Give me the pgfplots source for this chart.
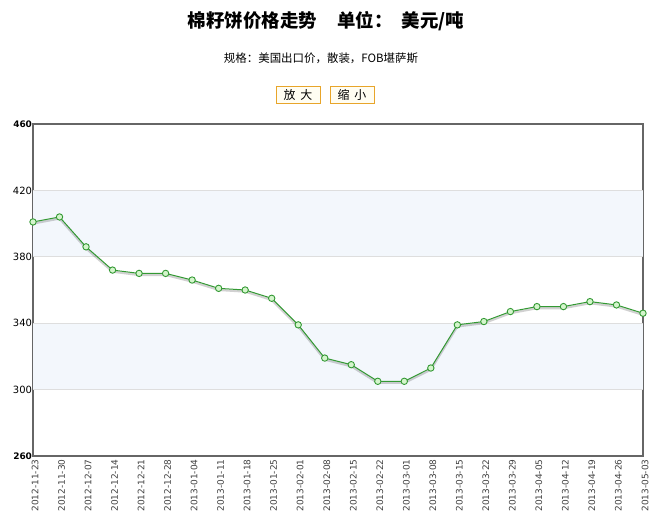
\documentclass[border=0pt]{standalone}
\usepackage{fontspec}
\setmainfont{DejaVu Sans}
\newfontfamily\cjk{Noto Sans CJK SC}
\usepackage{pgfplots}
\pgfplotsset{compat=1.18}
\definecolor{lineg}{HTML}{339933}
\definecolor{markf}{HTML}{D4F5CC}
\definecolor{band}{HTML}{F3F7FC}
\definecolor{gridc}{HTML}{DEDEDE}
\definecolor{frame}{HTML}{666666}
\definecolor{btn}{HTML}{E8A52A}
\definecolor{btnf}{HTML}{FFFDF2}
\begin{document}
\begin{tikzpicture}
\begin{axis}[
	name=ax,
	scale only axis,
	width=610bp,
	height=332bp,
	xmin=0, xmax=23,
	ymin=260, ymax=460,
	axis line style={frame, line width=1.6bp},
	ytick={260,300,340,380,420,460},
	yticklabels={\textbf{\fontsize{9}{10}\selectfont 260},300,340,380,420,\textbf{\fontsize{9}{10}\selectfont 460}},
	yticklabel style={font=\fontsize{10}{11}\selectfont, text=black, xshift=2.5bp},
	xtick={0,...,23},
	xticklabels={2012-11-23,2012-11-30,2012-12-07,2012-12-14,2012-12-21,2012-12-28,2013-01-04,2013-01-11,2013-01-18,2013-01-25,2013-02-01,2013-02-08,2013-02-15,2013-02-22,2013-03-01,2013-03-08,2013-03-15,2013-03-22,2013-03-29,2013-04-05,2013-04-12,2013-04-19,2013-04-26,2013-05-03},
	xticklabel style={rotate=90, anchor=east, font=\fontsize{9}{10}\selectfont, text=black!75, yshift=-2bp},
	major tick length=0pt,
	clip=false,
]
\fill[band] (axis cs:0,300) rectangle (axis cs:23,340);
\fill[band] (axis cs:0,380) rectangle (axis cs:23,420);
\foreach \g in {300,340,380,420} {
	\edef\tmp{\noexpand\draw[gridc, line width=0.8bp] (axis cs:0,\g) -- (axis cs:23,\g);}
	\tmp
}
\addplot[black, opacity=0.18, line width=2.2bp, yshift=-1.6bp, no marks] coordinates {
(0,401) (1,404) (2,386) (3,372) (4,370) (5,370) (6,366) (7,361) (8,360) (9,355) (10,339) (11,319)
(12,315) (13,305) (14,305) (15,313) (16,339) (17,341) (18,347) (19,350) (20,350) (21,353) (22,351) (23,346)
};
\addplot[lineg, line width=1bp, mark=*, mark size=3.2bp, mark options={fill=markf, draw=lineg, line width=0.9bp}] coordinates {
(0,401) (1,404) (2,386) (3,372) (4,370) (5,370) (6,366) (7,361) (8,360) (9,355) (10,339) (11,319)
(12,315) (13,305) (14,305) (15,313) (16,339) (17,341) (18,347) (19,350) (20,350) (21,353) (22,351) (23,346)
};
\end{axis}
\node[font=\cjk\bfseries\fontsize{18.5}{20}\selectfont] at ([xshift=293bp, yshift=103bp]ax.north west) {棉籽饼价格走势\hspace{1.1em}单位：\hspace{0.5em}美元/吨};
\node[font=\cjk\fontsize{11.5}{12}\selectfont] at ([xshift=288bp, yshift=66bp]ax.north west) {规格：美国出口价，散装，FOB堪萨斯};
\node[draw=btn, fill=btnf, line width=0.9bp, minimum width=44bp, minimum height=17bp, inner sep=0pt, font=\cjk\fontsize{12}{13}\selectfont] at ([xshift=265bp, yshift=29.5bp]ax.north west) {放\hspace{0.4em}大};
\node[draw=btn, fill=btnf, line width=0.9bp, minimum width=44bp, minimum height=17bp, inner sep=0pt, font=\cjk\fontsize{12}{13}\selectfont] at ([xshift=319bp, yshift=29.5bp]ax.north west) {缩\hspace{0.4em}小};
\pgfresetboundingbox
\path ([xshift=-33bp, yshift=-64bp]ax.south west) rectangle ([xshift=11bp, yshift=124bp]ax.north east);
\end{tikzpicture}
\end{document}
